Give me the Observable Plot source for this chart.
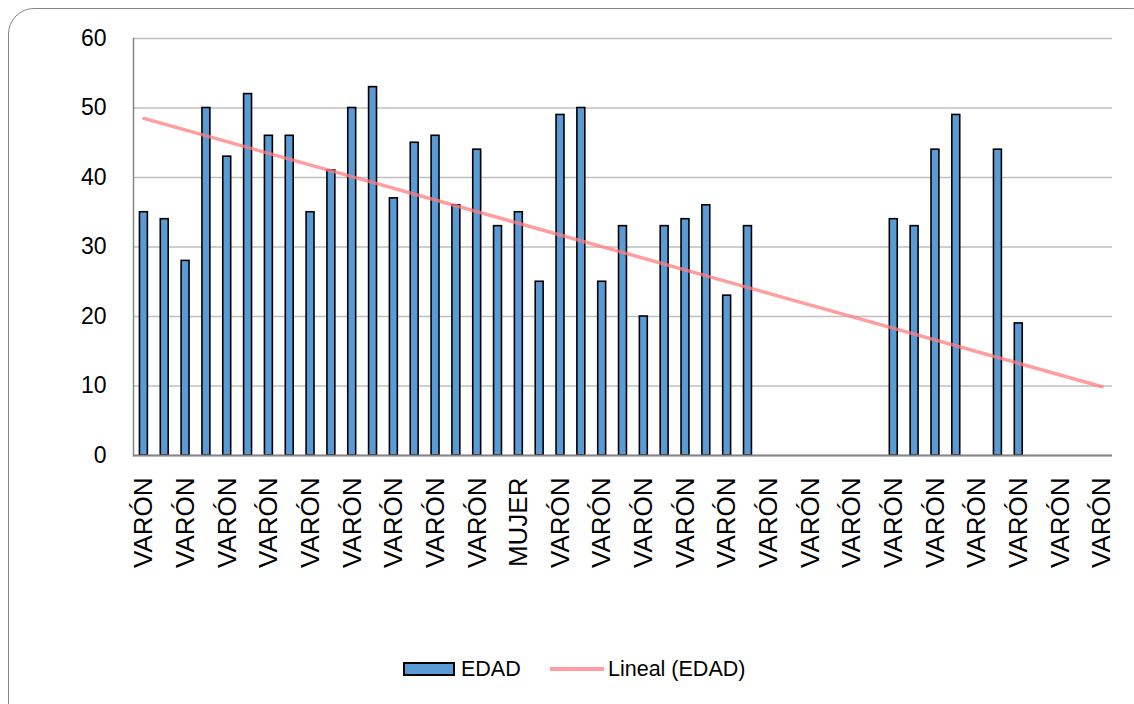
<!DOCTYPE html>
<html><head><meta charset="utf-8">
<script src="https://cdn.jsdelivr.net/npm/d3@7"></script>
<script src="https://cdn.jsdelivr.net/npm/@observablehq/plot@0.6"></script>
<style>
body{margin:0;background:#fff;}
#wrap{position:relative;width:1134px;height:704px;overflow:hidden;font-family:"Liberation Sans",Arial,sans-serif;}
#frame{position:absolute;left:8px;top:8px;width:1150px;height:720px;border:1.5px solid #868686;border-radius:26px;box-sizing:border-box;}
#chart{position:absolute;left:0;top:0;}
#legend{position:absolute;left:0;top:0;width:1134px;height:704px;pointer-events:none;font-family:"Liberation Sans",Arial,sans-serif;font-size:21.5px;color:#000;}
.sw{position:absolute;}
.lt{position:absolute;line-height:24px;}
</style>
</head><body>
<div id="wrap"><div id="frame"></div><div id="chart"></div>
<div id="legend">
  <div class="sw" style="left:403px;top:662px;width:52px;height:14px;background:#5B9BD5;border:2px solid #000;box-sizing:border-box;"></div>
  <div class="lt" style="left:461px;top:657px;">EDAD</div>
  <div class="sw" style="left:550px;top:667px;width:54px;height:3.5px;background:#FF7C80;opacity:0.75;"></div>
  <div class="lt" style="left:608px;top:657px;">Lineal (EDAD)</div>
</div>
</div>
<script>
const labels = ["VARÓN","VARÓN","VARÓN","VARÓN","VARÓN","VARÓN","VARÓN","VARÓN","VARÓN","VARÓN",
  "VARÓN","VARÓN","VARÓN","VARÓN","VARÓN","VARÓN","VARÓN","VARÓN","MUJER","VARÓN",
  "VARÓN","VARÓN","VARÓN","VARÓN","VARÓN","VARÓN","VARÓN","VARÓN","VARÓN","VARÓN",
  "VARÓN","VARÓN","VARÓN","VARÓN","VARÓN","VARÓN","VARÓN","VARÓN","VARÓN","VARÓN",
  "VARÓN","VARÓN","VARÓN","VARÓN","VARÓN","VARÓN","VARÓN"];
const edad = [35,34,28,50,43,52,46,46,35,41,
  50,53,37,45,46,36,44,33,35,25,
  49,50,25,33,20,33,34,36,23,33,
  null,null,null,null,null,null,34,33,44,49,
  null,44,19,null,null,null,null];
const trendX = [0, 46];
const trendY = [48.5, 9.9];
const yTicks = [0,10,20,30,40,50,60];

const n = labels.length;
const idx = d3.range(n);
const bars = idx.map(i => ({i, v: edad[i]})).filter(d => d.v != null);
const trend = trendX.map((x, k) => ({i: x, v: trendY[k]}));
const shownTicks = idx.filter(i => i % 2 === 0);

const chart = Plot.plot({
  width: 1134, height: 640,
  marginLeft: 133, marginRight: 22, marginTop: 38, marginBottom: 185,
  style: {background: "transparent", fontFamily: "Liberation Sans, Arial, sans-serif"},
  x: {type: "band", domain: idx, paddingInner: 0.62, paddingOuter: 0.31},
  y: {domain: [0, 60]},
  marks: [
    Plot.gridY(yTicks, {stroke: "#bfbfbf", strokeOpacity: 1, strokeWidth: 1.5}),
    Plot.frame({anchor: "left", stroke: "#868686", strokeWidth: 1.5}),
    Plot.barY(bars, {x: "i", y: "v", fill: "#5B9BD5", stroke: "#000", strokeWidth: 1.6}),
    Plot.ruleY([0], {stroke: "#868686", strokeWidth: 2}),
    Plot.lineY(trend, {x: "i", y: "v", stroke: "#FF7C80", strokeOpacity: 0.75, strokeWidth: 3.5}),
    Plot.axisY(yTicks, {tickSize: 0, tickPadding: 27, fontSize: 23, label: null, fill: "#000"}),
    Plot.axisX(shownTicks, {tickSize: 0, tickPadding: 22, tickRotate: -90, fontSize: 26, label: null, fill: "#000",
      tickFormat: i => labels[i]})
  ]
});
document.getElementById("chart").appendChild(chart);
</script>
</body></html>
